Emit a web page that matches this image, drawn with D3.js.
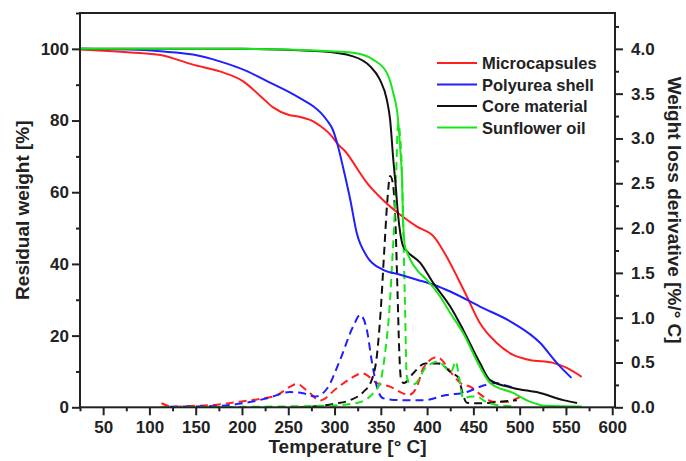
<!DOCTYPE html>
<html>
<head>
<meta charset="utf-8">
<script src="https://cdn.jsdelivr.net/npm/d3@7/dist/d3.min.js"></script>
<style>
  html, body { margin: 0; padding: 0; background: #ffffff; }
  svg { display: block; }
  text { font-family: "Liberation Sans", Arial, sans-serif; font-weight: bold; fill: #222; }
</style>
</head>
<body>
<svg id="chart" width="686" height="461"></svg>
<script>
// ---------------- DATA ----------------
const seriesNames = ["Microcapsules", "Polyurea shell", "Core material", "Sunflower oil"];
const seriesColors = ["#ff1f1f", "#1f1fff", "#111111", "#19e619"];

// Residual weight (TG, left axis, %)
const tgMicroT = [25, 50, 80, 112, 147, 176, 201, 220, 234, 250, 263, 277, 285, 295, 305, 313, 317, 335, 352, 371, 389, 407, 421, 434, 443, 457, 475, 493, 511, 536, 551, 567];
const tgMicroW = [99.8, 99.5, 99.0, 98.3, 95.6, 93.7, 91.0, 86.8, 83.6, 81.6, 81.0, 79.8, 78.4, 76.2, 73.0, 71.0, 69.5, 62.6, 57.9, 53.7, 50.4, 47.7, 42.1, 35.6, 30.9, 23.5, 18.0, 14.6, 13.2, 12.4, 11.0, 8.5];

const tgShellT = [25, 80, 112, 147, 176, 206, 227, 249, 263, 277, 285, 292, 298, 303, 309, 317, 324, 335, 352, 371, 389, 407, 425, 457, 493, 522, 540, 556];
const tgShellW = [100, 99.8, 99.3, 98.4, 96.5, 93.7, 91.0, 88.2, 86.2, 84.0, 82.2, 80.0, 77.5, 73.5, 67.2, 57.9, 48.6, 42.1, 38.4, 37.0, 35.6, 34.2, 32.3, 28.1, 23.5, 18.0, 12.4, 8.2];

const tgCoreT = [25, 100, 200, 285, 320, 338.5, 349, 356.5, 360, 363.5, 366, 368.5, 371, 374, 378, 392.6, 406.6, 425, 439, 457, 468, 493, 522, 547, 562];
const tgCoreW = [100, 100, 100, 99.3, 97.9, 95.1, 91.4, 85.8, 80.3, 69.0, 62.0, 54.0, 48.6, 45.0, 43.6, 40.3, 34.7, 28.1, 21.6, 12.4, 7.6, 5.4, 4.0, 2.0, 1.2];

const tgOilT = [25, 100, 200, 285, 320, 341.7, 356.5, 363.4, 368.7, 371, 372.7, 374.4, 376, 378, 382, 390, 399.6, 414, 425, 439, 457, 468, 493, 511, 529, 567];
const tgOilW = [100, 100, 100, 99.5, 98.9, 97.0, 93.3, 87.7, 80.0, 72.0, 65.0, 50.0, 45.0, 43.5, 41.1, 38.0, 35.6, 30.9, 26.3, 20.7, 11.3, 6.8, 4.0, 1.6, 0.4, 0.2];

// Weight loss derivative (DTG, right axis, %/°C)
const dtgMicroT = [113, 125, 144, 169, 198, 223, 238, 252, 259, 270, 284.5, 302, 317, 330, 346, 360, 374, 380, 389, 396, 410.6, 428, 436, 446.5, 460.6, 471.4, 486, 497, 503];
const dtgMicroD = [0.045, 0.007, 0.015, 0.026, 0.063, 0.10, 0.137, 0.23, 0.26, 0.19, 0.076, 0.21, 0.32, 0.38, 0.27, 0.23, 0.156, 0.137, 0.23, 0.44, 0.56, 0.36, 0.27, 0.23, 0.12, 0.063, 0.063, 0.10, 0.126];

const dtgShellT = [122, 173, 201, 227, 252, 266, 279, 292, 306, 320, 327.7, 335, 340, 345.7, 352.5, 371, 396, 421, 443, 457, 475, 486, 497];
const dtgShellD = [0.007, 0.015, 0.045, 0.10, 0.17, 0.156, 0.12, 0.21, 0.53, 0.90, 1.03, 0.86, 0.53, 0.23, 0.10, 0.08, 0.08, 0.137, 0.17, 0.23, 0.27, 0.24, 0.21];

const dtgCoreT = [262, 274, 300, 317, 331, 340, 346, 350, 354, 357, 360, 363, 366, 368, 370, 372, 375, 385, 398, 412, 427, 434, 438, 443, 460, 479, 497];
const dtgCoreD = [0.0, 0.007, 0.04, 0.08, 0.17, 0.30, 0.60, 1.10, 1.80, 2.30, 2.58, 2.50, 2.00, 1.30, 0.60, 0.30, 0.27, 0.38, 0.49, 0.49, 0.38, 0.33, 0.17, 0.05, 0.045, 0.063, 0.08];

const dtgOilT = [112, 200, 250, 300, 328, 342, 349, 355, 360, 362, 364, 366, 368.7, 371, 372.6, 374.4, 376, 378, 381, 386, 399, 412, 422, 426, 431, 435, 439, 447, 454, 462, 475, 495];
const dtgOilD = [0.0, 0.005, 0.01, 0.02, 0.06, 0.16, 0.27, 0.64, 1.20, 1.57, 1.95, 2.40, 3.17, 3.00, 2.69, 1.94, 1.20, 0.35, 0.27, 0.26, 0.45, 0.51, 0.42, 0.40, 0.51, 0.30, 0.10, 0.12, 0.12, 0.07, 0.026, 0.01];

const xTicks = [50, 100, 150, 200, 250, 300, 350, 400, 450, 500, 550, 600];
const yLeftTicks = [0, 20, 40, 60, 80, 100];
const yRightTicks = [0.0, 0.5, 1.0, 1.5, 2.0, 2.5, 3.0, 3.5, 4.0];

// ---------------- LAYOUT ----------------
const svg = d3.select("#chart");
const L = 80, R = 615, T = 13, B = 407.3;

const x = d3.scaleLinear().domain([25, 603]).range([L, R]);
const yL = d3.scaleLinear().domain([0, 110]).range([B, T]);
const yR = d3.scaleLinear().domain([0, 4.4]).range([B, T]);

const zip = (a, b) => a.map((v, i) => [v, b[i]]);

const lineL = d3.line().x(d => x(d[0])).y(d => yL(d[1])).curve(d3.curveMonotoneX);
const lineR = d3.line().x(d => x(d[0])).y(d => yR(d[1])).curve(d3.curveMonotoneX);

const plot = svg.append("g");
plot.append("defs").append("clipPath").attr("id", "clip")
  .append("rect").attr("x", L).attr("y", T).attr("width", R - L).attr("height", B - T);
const g = plot.append("g").attr("clip-path", "url(#clip)");

const dtg = [zip(dtgMicroT, dtgMicroD), zip(dtgShellT, dtgShellD), zip(dtgCoreT, dtgCoreD), zip(dtgOilT, dtgOilD)];
const tg = [zip(tgMicroT, tgMicroW), zip(tgShellT, tgShellW), zip(tgCoreT, tgCoreW), zip(tgOilT, tgOilW)];

dtg.forEach((d, i) => {
  g.append("path").attr("d", lineR(d)).attr("fill", "none")
    .attr("stroke", seriesColors[i]).attr("stroke-width", 2)
    .attr("stroke-dasharray", "8,5");
});
tg.forEach((d, i) => {
  g.append("path").attr("d", lineL(d)).attr("fill", "none")
    .attr("stroke", seriesColors[i]).attr("stroke-width", 2);
});

// ---------------- AXES ----------------
const axisColor = "#222";
function styleAxis(sel) {
  sel.select(".domain").remove();
  sel.selectAll(".tick line").attr("stroke", axisColor).attr("stroke-width", 2);
  sel.selectAll(".tick text").attr("fill", "#222").style("font-size", "17px").style("font-weight", "bold")
    .style("font-family", "'Liberation Sans', Arial, sans-serif");
}

// minor ticks
const xMinor = d3.range(25, 603, 25).filter(v => v % 50 !== 0);
const yLMinor = d3.range(10, 111, 20);
const yRMinor = d3.range(0.25, 4.4, 0.5);

svg.append("g").attr("transform", `translate(0,${B})`)
  .call(d3.axisBottom(x).tickValues(xMinor).tickSize(4).tickFormat(""))
  .call(styleAxis);
svg.append("g").attr("transform", `translate(0,${B})`)
  .call(d3.axisBottom(x).tickValues(xTicks).tickSize(8).tickPadding(6).tickFormat(d3.format("d")))
  .call(styleAxis);

svg.append("g").attr("transform", `translate(${L},0)`)
  .call(d3.axisLeft(yL).tickValues(yLMinor).tickSize(4).tickFormat(""))
  .call(styleAxis);
svg.append("g").attr("transform", `translate(${L},0)`)
  .call(d3.axisLeft(yL).tickValues(yLeftTicks).tickSize(8).tickPadding(3).tickFormat(d3.format("d")))
  .call(styleAxis);

svg.append("g").attr("transform", `translate(${R},0)`)
  .call(d3.axisRight(yR).tickValues(yRMinor).tickSize(4).tickFormat(""))
  .call(styleAxis);
svg.append("g").attr("transform", `translate(${R},0)`)
  .call(d3.axisRight(yR).tickValues(yRightTicks).tickSize(8).tickPadding(8).tickFormat(d3.format(".1f")))
  .call(styleAxis);

// frame
svg.append("rect").attr("x", L).attr("y", T).attr("width", R - L).attr("height", B - T)
  .attr("fill", "none").attr("stroke", axisColor).attr("stroke-width", 2);

// titles
svg.append("text").attr("x", (L + R) / 2).attr("y", 453).attr("text-anchor", "middle")
  .style("font-size", "19px").text("Temperature [° C]");
svg.append("text").attr("transform", `translate(29,${(T + B) / 2}) rotate(-90)`).attr("text-anchor", "middle")
  .style("font-size", "19px").text("Residual weight [%]");
svg.append("text").attr("transform", `translate(668,${(T + B) / 2}) rotate(90)`).attr("text-anchor", "middle")
  .style("font-size", "19px").text("Weight loss derivative [%/° C]");

// legend
const leg = svg.append("g");
seriesNames.forEach((name, i) => {
  const yy = 63 + i * 21.5;
  leg.append("line").attr("x1", 437).attr("x2", 477).attr("y1", yy).attr("y2", yy)
    .attr("stroke", seriesColors[i]).attr("stroke-width", 2);
  leg.append("text").attr("x", 482).attr("y", yy + 6).style("font-size", "16.5px").text(name);
});
</script>
</body>
</html>
